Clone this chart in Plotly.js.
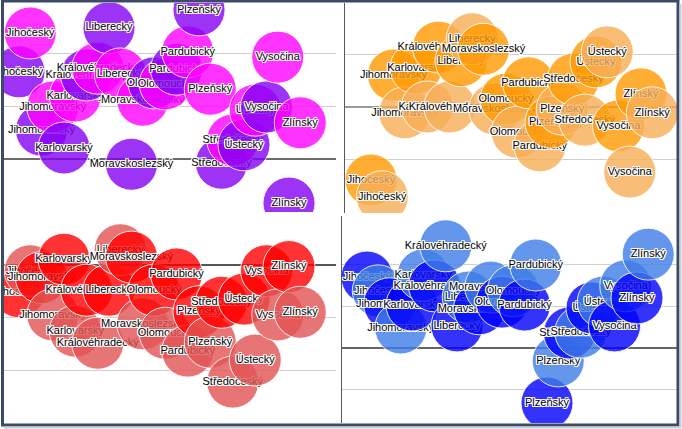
<!DOCTYPE html>
<html>
<head>
<meta charset="utf-8">
<script src="https://cdn.plot.ly/plotly-3.0.1.min.js"></script>
<style>
html,body{margin:0;padding:0;background:#fff;}
#chart{width:682px;height:429px;}
</style>
</head>
<body>
<div id="chart"></div>
<script>
// ---- data ----
const regions = ['Jihočeský','Jihomoravský','Karlovarský','Královéhradecký','Liberecký','Moravskoslezský','Olomoucký','Pardubický','Plzeňský','Středočeský','Ústecký','Vysočina','Zlínský'];
const xDark  = [1,2,3,4,5,6,7,8,9,10,11,12,13];
const xLight = [1.5,2.5,3.5,4.5,5.5,6.5,7.5,8.5,9.5,10.5,11.5,12.5,13.5];

// top-left (purple / magenta)
const tlDark  = [1.66, 0.55, 0.21, 1.60, 2.50, -0.10, 1.45, 1.71, 2.84, -0.08, 0.27, 0.99, -0.84];
const tlLight = [2.40, 0.99, 1.20, 1.73, 1.62, 1.12, 1.43, 2.04, 1.33, 0.36, 0.93, 1.94, 0.69];
// top-right (orange)
const trDark  = [-1.39, 0.61, 0.74, 1.14, 0.88, 1.10, 0.15, 0.46, -0.29, 0.53, 0.86, -0.36, 0.25];
const trLight = [-1.71, -0.11, 0.00, 0.00, 1.30, -0.04, -0.48, -0.74, -0.04, -0.25, 1.05, -1.24, -0.11];
// bottom-left (red)
const blDark  = [-0.51, -0.24, 0.11, -0.48, -0.48, 0.15, -0.48, -0.17, -0.89, -0.71, -0.65, -0.11, -0.03];
const blLight = [-0.11, -0.95, -1.26, -1.49, 0.29, -1.12, -1.30, -1.64, -1.47, -2.23, -1.81, -0.95, -0.90];
// bottom-right (blue)
const brDark  = [1.70, 1.06, 1.03, 1.49, 0.53, 0.94, 1.10, 1.03, -1.32, 0.36, 0.96, 0.53, 1.20];
const brLight = [1.37, 0.48, 1.75, 2.45, 1.22, 1.46, 1.37, 1.99, -0.31, 0.38, 1.10, 1.49, 2.25];

// ---- layout helpers ----
const W = 682, H = 429;
const xdom = (l, r) => [l / W, r / W];
const ydom = (t, b) => [1 - b / H, 1 - t / H];

const panels = [
  {dark: tlDark, light: tlLight, cDark: 'rgba(132,0,242,0.8)', cLight: 'rgba(255,0,255,0.8)',
   xd: [4, 336], yd: [3, 212], xr: [0.3333, 15.089], yr: [-1.0095, 2.971], ticks: [-1, 1, 2], zc: '#6a6a6a', axisLine: false},
  {dark: trDark, light: trLight, cDark: 'rgba(255,153,0,0.8)', cLight: 'rgba(246,174,86,0.8)',
   xd: [345, 677], yd: [3, 213], xr: [-0.1556, 14.6], yr: [-2.019, 1.981], ticks: [-2, -1, 1], zc: '#9a9a9a', axisLine: true},
  {dark: blDark, light: blLight, cDark: 'rgba(255,0,0,0.8)', cLight: 'rgba(226,82,82,0.8)',
   xd: [4, 336], yd: [216, 422], xr: [0.3333, 15.089], yr: [-2.99, 0.933], ticks: [-2, -1], zc: '#555555', axisLine: false},
  {dark: brDark, light: brLight, cDark: 'rgba(0,0,250,0.8)', cLight: 'rgba(61,124,230,0.8)',
   xd: [342, 677], yd: [216, 423], xr: [-0.111, 14.778], yr: [-1.799, 3.165], ticks: [-1, 1, 2], zc: '#666666', axisLine: true}
];

const halo = '1px 0 0 #fff, -1px 0 0 #fff, 0 1px 0 #fff, 0 -1px 0 #fff, 1px 1px 0 #fff, -1px -1px 0 #fff, 1px -1px 0 #fff, -1px 1px 0 #fff';

const traces = [];
const layout = {
  width: W, height: H,
  margin: {l: 0, r: 0, t: 0, b: 0, pad: 0},
  paper_bgcolor: '#ffffff',
  plot_bgcolor: 'rgba(0,0,0,0)',
  showlegend: false,
  hovermode: false,
  shapes: []
};

panels.forEach((p, k) => {
  const sfx = k === 0 ? '' : String(k + 1);
  layout['xaxis' + sfx] = {
    domain: xdom(p.xd[0], p.xd[1]), range: p.xr, anchor: 'y' + sfx,
    showgrid: false, zeroline: false, showticklabels: false, ticks: '', showline: false, fixedrange: true
  };
  layout['yaxis' + sfx] = {
    domain: ydom(p.yd[0], p.yd[1]), range: p.yr, anchor: 'x' + sfx,
    tickmode: 'array', tickvals: p.ticks, showgrid: true, gridcolor: '#cfcfcf', gridwidth: 1,
    zeroline: true, zerolinecolor: p.zc, zerolinewidth: 1.5,
    showticklabels: false, ticks: '',
    showline: p.axisLine, linecolor: '#5a5a5a', linewidth: 1.5, fixedrange: true
  };
  regions.forEach((name, i) => {
    [[xDark, p.dark, p.cDark], [xLight, p.light, p.cLight]].forEach(([xs, ys, col]) => {
      traces.push({
        type: 'scatter', mode: 'markers+text',
        x: [xs[i]], y: [ys[i]], text: [name],
        xaxis: 'x' + sfx, yaxis: 'y' + sfx,
        cliponaxis: true,
        textposition: 'middle center',
        textfont: {family: 'Arial, "Liberation Sans", sans-serif', size: 11, color: '#000', shadow: halo},
        marker: {size: 52, color: col, line: {color: 'rgba(255,255,255,0.85)', width: 1}},
        hoverinfo: 'skip'
      });
    });
  });
});

// outer frame with shadow
layout.shapes.push(
  {type: 'rect', xref: 'paper', yref: 'paper', layer: 'above',
   x0: 2.5 / W, x1: 678 / W, y0: 1 - 425 / H, y1: 1 - 1 / H,
   line: {color: '#3b4a66', width: 3}, fillcolor: 'rgba(0,0,0,0)'},
  {type: 'line', xref: 'paper', yref: 'paper', layer: 'above',
   x0: 680.5 / W, x1: 680.5 / W, y0: 1 - 428 / H, y1: 1 - 4 / H,
   line: {color: '#c9ced8', width: 2}},
  {type: 'line', xref: 'paper', yref: 'paper', layer: 'above',
   x0: 4 / W, x1: 681 / W, y0: 1 - 427.5 / H, y1: 1 - 427.5 / H,
   line: {color: '#c9ced8', width: 2}}
);

Plotly.newPlot('chart', traces, layout, {staticPlot: true, displayModeBar: false});
</script>
</body>
</html>
